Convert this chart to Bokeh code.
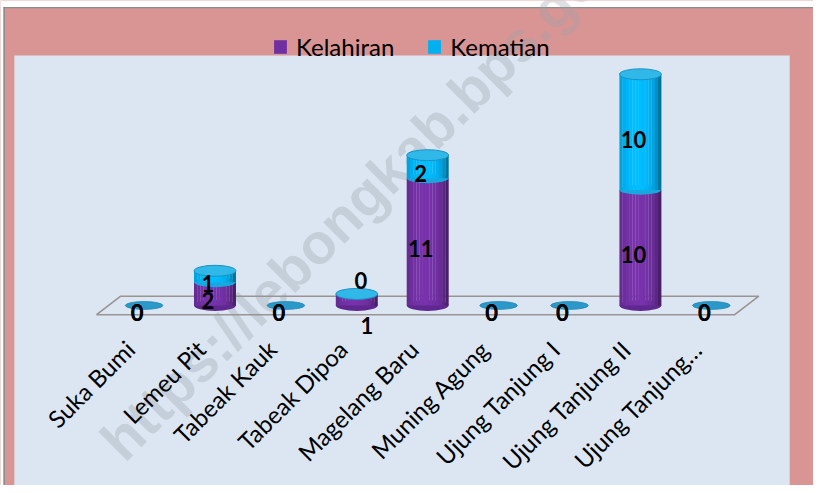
import numpy as np
from bokeh.plotting import figure
from bokeh.models import Range1d, Legend, LegendItem, Label, ColumnDataSource, BoxAnnotation
from bokeh.core.properties import value
from bokeh.embed import file_html
from bokeh.resources import INLINE

# ---------------- data ----------------
categories = ["Suka Bumi", "Lemeu Pit", "Tabeak Kauk", "Tabeak Dipoa", "Magelang Baru",
              "Muning Agung", "Ujung Tanjung I", "Ujung Tanjung II", "Ujung Tanjung…"]
kelahiran = [0, 2, 0, 1, 11, 0, 0, 10, 0]
kematian = [0, 1, 0, 0, 2, 0, 0, 10, 0]
series_names = ["Kelahiran", "Kematian"]
watermark = "https://lebongkab.bps.go.id"

# ---------------- styling / geometry ----------------
PURPLE = (112, 48, 160)
CYAN = (0, 176, 240)
PINK = "#D99594"
PANEL = "#DCE6F2"
FONT = "Lato"
W, H = 813, 485
# scale expressed in the reference's 821x493 pixel geometry
REF_W, REF_H = 821, 493
px_x = 71.6      # reference pixels per category
px_y = 11.75     # reference pixels per unit
x0 = -145 / px_x
x1 = x0 + REF_W / px_x
y1 = 310 / px_y
y0 = y1 - REF_H / px_y


def rx(px):
    return x0 + px / px_x


def ry(py):
    return y1 - py / px_y


n = len(categories)
xi = np.arange(n)
kel = np.array(kelahiran, dtype=float)
kem = np.array(kematian, dtype=float)
tot = kel + kem

p = figure(width=W, height=H,
           x_range=Range1d(x0, x1), y_range=Range1d(y0, y1),
           x_axis_type=None, y_axis_type=None,
           min_border_left=0, min_border_right=0, min_border_top=0, min_border_bottom=0,
           background_fill_color=PINK, border_fill_color=PINK,
           outline_line_color=None, toolbar_location=None, output_backend="svg")

# chart area frame: light panel, white strip + grey border at top/left
p.add_layout(BoxAnnotation(left=rx(14), right=rx(797), top=ry(56), fill_color=PANEL,
                           fill_alpha=1, line_color=None, level="underlay"))
p.add_layout(BoxAnnotation(bottom=ry(6.5), fill_color="white", fill_alpha=1,
                           line_color=None, level="underlay"))
p.add_layout(BoxAnnotation(right=rx(3), fill_color="white", fill_alpha=1,
                           line_color=None, level="underlay"))
p.add_layout(BoxAnnotation(bottom=ry(8), top=ry(6.5), left=rx(3), fill_color="#8c8c8c",
                           fill_alpha=1, line_color=None, level="underlay"))
p.add_layout(BoxAnnotation(left=rx(3), right=rx(4.5), top=ry(6.5), fill_color="#8c8c8c",
                           fill_alpha=1, line_color=None, level="underlay"))

# watermark (under the glyphs)
p.add_layout(Label(x=110, y=36, x_units="screen", y_units="screen", text=watermark,
                   angle=np.pi / 4, text_font="Liberation Sans", text_font_style="bold",
                   text_font_size="57px", text_color="#98a0aa", text_alpha=0.33,
                   text_align="left", text_baseline="alphabetic", level="underlay"))

# floor parallelogram
skew_x, skew_y = 0.17, 0.8
fx = [-0.5 + skew_x, n - 0.5 + skew_x, n - 0.5 - skew_x, -0.5 - skew_x]
fy = [skew_y, skew_y, -skew_y, -skew_y]
p.patch(fx, fy, fill_alpha=0, line_color="#9a9494", line_width=1.6)

bar_w = 0.59
cap_h = 0.95
has = tot > 0

# zero discs
zero = ColumnDataSource(dict(x=xi[~has], y=np.zeros((~has).sum())))
p.ellipse(x="x", y="y", width=0.53, height=0.68, source=zero,
          fill_color="#2a98c8", line_color="#2286b4", line_width=0.8)

# bottom caps
base = ColumnDataSource(dict(x=xi[has], y=np.zeros(has.sum())))
p.ellipse(x="x", y="y", width=bar_w, height=cap_h, source=base,
          fill_color="#5e2890", line_color=None)


def shade(rgb, k):
    return "#%02x%02x%02x" % tuple(int(max(0, min(255, c * k))) for c in rgb)


N = 13
sw = bar_w / N
for s, (bot, top, rgb) in enumerate([(np.zeros(n), kel, PURPLE), (kel, tot, CYAN)]):
    for j in range(N):
        t = (j + 0.5) / N * 2 - 1
        k = 0.66 + 0.42 * np.sqrt(max(0.0, 1 - (t + 0.15) ** 2))
        src = ColumnDataSource(dict(x=xi + (j + 0.5) * sw - bar_w / 2, bottom=bot, top=top))
        p.vbar(x="x", bottom="bottom", top="top", width=sw * 1.05, source=src,
               fill_color=shade(rgb, k), line_color=None)
    if s == 0:
        both = (kel > 0) & (kem > 0)
        bsrc = ColumnDataSource(dict(x=xi[both], y=kel[both]))
        p.ellipse(x="x", y="y", width=bar_w * 0.98, height=cap_h * 0.9, source=bsrc,
                  fill_color="#18a8e0", line_color=None)

# top caps
topsrc = ColumnDataSource(dict(x=xi[has], y=tot[has]))
p.ellipse(x="x", y="y", width=bar_w, height=cap_h, source=topsrc,
          fill_color="#30b8e8", line_color="#1b92c4", line_width=1)

# data labels
lx, ly, lt, ox, oy = [], [], [], [], []
for i in range(n):
    if tot[i] == 0:
        for v in (kel[i], kem[i]):
            lx.append(i); ly.append(0); lt.append("%d" % v); ox.append(-7); oy.append(7)
    elif tot[i] < 2:
        lx.append(i); ly.append(0); lt.append("%d" % kel[i]); ox.append(10); oy.append(20)
        lx.append(i); ly.append(tot[i]); lt.append("%d" % kem[i]); ox.append(4); oy.append(-13)
    else:
        lx.append(i); ly.append(kel[i] / 2); lt.append("%d" % kel[i]); ox.append(-7); oy.append(7)
        lx.append(i); ly.append(kel[i] + kem[i] / 2); lt.append("%d" % kem[i]); ox.append(-7); oy.append(7)
lsrc = ColumnDataSource(dict(x=lx, y=ly, text=lt, ox=ox, oy=oy))
p.text(x="x", y="y", text="text", x_offset="ox", y_offset="oy", source=lsrc,
       text_font=value(FONT), text_font_style="bold", text_font_size="22px",
       text_color="black", text_align="center", text_baseline="middle")

# category labels
csrc = ColumnDataSource(dict(x=xi, y=np.full(n, -3.4), text=categories))
p.text(x="x", y="y", text="text", source=csrc, angle=np.pi / 4, x_offset=-14,
       text_font=value(FONT), text_font_size="24px", text_color="black",
       text_align="right", text_baseline="middle")

# legend
r1 = p.vbar(x=[0], bottom=[0], top=[0], width=0.01, fill_color="#7030A0", line_color=None)
r2 = p.vbar(x=[0], bottom=[0], top=[0], width=0.01, fill_color="#00B0F0", line_color=None)
legend = Legend(items=[LegendItem(label=series_names[0], renderers=[r1]),
                       LegendItem(label=series_names[1], renderers=[r2])],
                location=(272, 424), orientation="horizontal",
                glyph_width=16, glyph_height=17, label_standoff=8, spacing=32,
                padding=0, margin=0, background_fill_alpha=0, border_line_alpha=0,
                label_text_font=FONT, label_text_font_size="24px", label_text_color="black")
p.add_layout(legend)

open("out.html", "w").write(file_html(p, INLINE))
